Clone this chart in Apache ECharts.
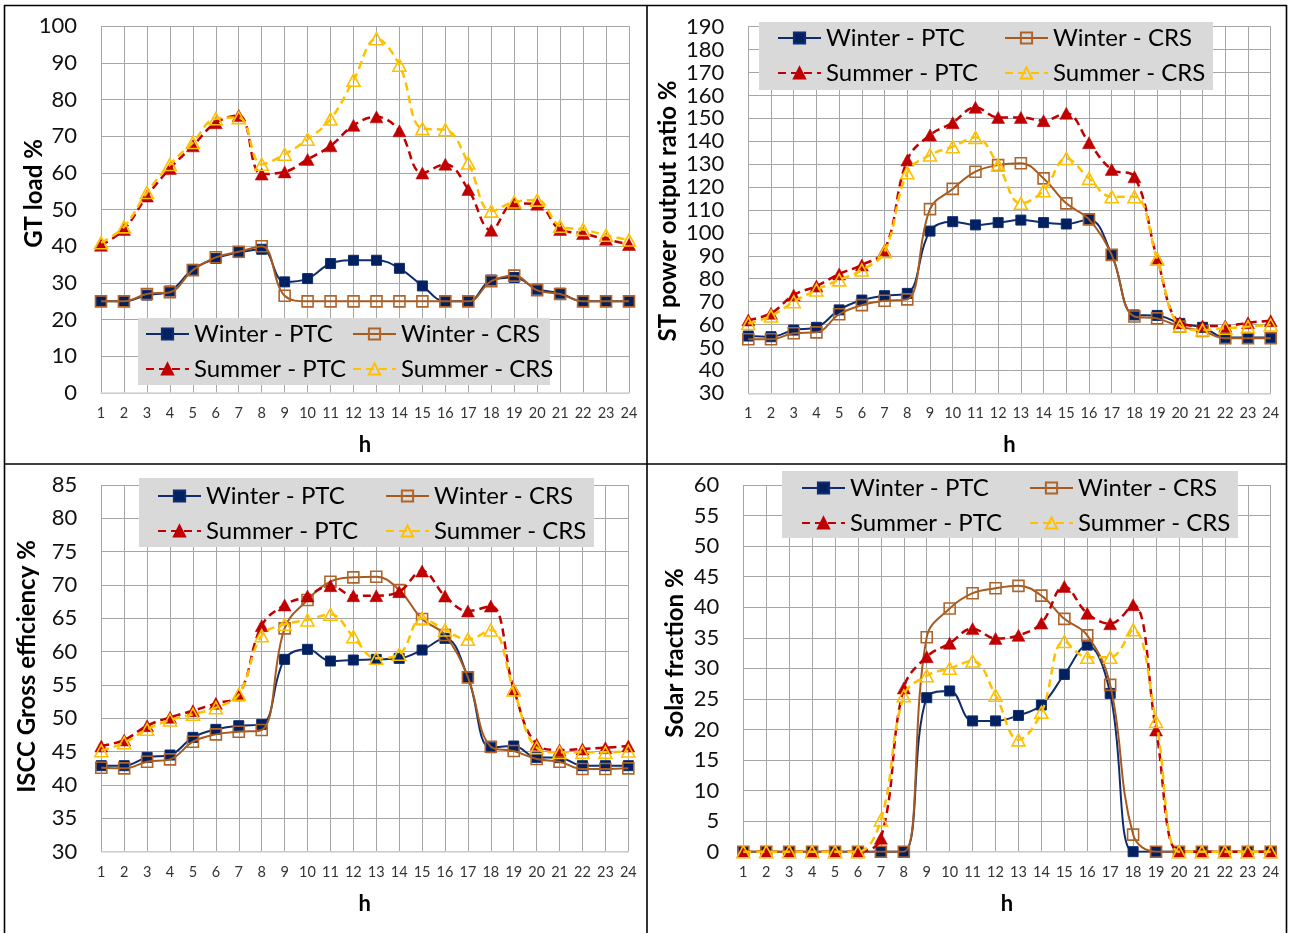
<!DOCTYPE html>
<html>
<head>
<meta charset="utf-8">
<script src="https://cdn.jsdelivr.net/npm/echarts@6/dist/echarts.min.js"></script>
<style>
html,body{margin:0;padding:0;background:#fff;}
#c{width:1290px;height:933px;}
</style>
</head>
<body>
<div id="c"></div>
<script>
// ---- data ----
const hours = ['1','2','3','4','5','6','7','8','9','10','11','12','13','14','15','16','17','18','19','20','21','22','23','24'];
const seriesNames = ['Winter - PTC','Winter - CRS','Summer - PTC','Summer - CRS'];

// GT load %
const gtWinterPTC = [25,25,26.7,27.8,33.7,36.7,38.3,39.2,30.3,31.2,35.3,36.2,36.2,34,29.2,25,25,30.8,31.5,28.3,27.2,25,25,25];
const gtWinterCRS = [25,25,27,27.5,33.5,37,38.5,40,26.5,25,25,25,25,25,25,25,25,30.5,32,28,27,25,25,25];
const gtSummerPTC = [40.3,44.6,53.7,61.2,67.4,73.7,75.7,59.7,60.3,63.7,67.4,73,75.3,71.5,60,62.4,55.5,44.4,51.7,51.5,44.6,43.5,41.9,40.5];
const gtSummerCRS = [41,45.3,54.7,62.3,68.3,74.8,75.1,62.4,65.1,69.2,74.7,85.3,96.6,89.4,72.1,71.8,62.7,49.6,52.1,52.6,45.5,44.6,43,41.7];

// ST power output ratio %
const stWinterPTC = [55,54.7,57.6,58.8,66.4,70.7,72.6,73.6,100.8,104.9,103.5,104.5,105.6,104.5,103.9,105.9,90.4,64.2,64,60.5,58.8,54.4,54.4,54.4];
const stWinterCRS = [53.6,53.6,56.2,56.6,64.5,68.5,70.4,71,110.4,119.2,126.7,129.6,130.4,123.8,112.9,105.9,90.4,63.5,62.7,59.1,57.2,54,54,54];
const stSummerPTC = [62,64.9,72.9,76.8,82.1,86,92.5,131.8,142.7,148.1,154.8,150.4,150.4,149,152.2,139.4,127.7,124.5,88.9,60.8,59.4,59.4,60.8,61.7];
const stSummerCRS = [60.5,63.7,70,75.1,79.5,83.8,91.8,126.3,134,137.6,141.7,129.6,112.9,118.4,132.5,123.8,115.8,115.8,88.5,59.4,57.6,58.4,59.1,59.8];

// ISCC Gross efficiency %
const isWinterPTC = [42.9,42.9,44.15,44.5,47.15,48.35,48.9,49.1,58.85,60.35,58.6,58.75,58.85,59,60.25,62,56.15,45.6,45.85,44.15,44.1,42.9,42.9,42.9];
const isWinterCRS = [42.6,42.5,43.5,43.85,46.5,47.6,48,48.25,63.5,67.75,70.5,71.15,71.25,69.25,64.9,62.5,56.15,45.75,45.1,43.9,43.5,42.4,42.4,42.5];
const isSummerPTC = [45.85,46.75,48.9,50.15,51.15,52.25,53.5,63.9,67,68.35,69.9,68.4,68.4,69,72.1,68.35,66.1,66.85,54.4,46.1,45.25,45.4,45.6,45.85];
const isSummerCRS = [45.15,46.35,48.35,49.75,50.6,51.6,53.6,62.4,64.1,64.75,65.6,62.25,59,59.6,65,63.25,61.85,63.25,54.25,45.6,44.9,44.9,44.9,45.1];

// Solar fraction %
const sfWinterPTC = [0,0,0,0,0,0,0,0,25.2,26.3,21.4,21.4,22.3,24,29,33.8,25.9,0,0,0,0,0,0,0];
const sfWinterCRS = [0,0,0,0,0,0,0,0,35.1,39.8,42.3,43.1,43.5,41.9,38.1,35.4,27.3,2.8,0,0,0,0,0,0];
const sfSummerPTC = [0,0,0,0,0,0,2.2,26.8,31.9,34.1,36.5,34.9,35.4,37.4,43.4,39,37.3,40.4,19.9,0,0,0,0,0];
const sfSummerCRS = [0,0,0,0,0,0,5.2,25.5,28.8,30,31.2,25.6,18.3,22.8,34.4,31.8,31.8,36.3,21.3,0,0,0,0,0];

const yTitles = ['GT load %','ST power output ratio %','ISCC Gross efficiency %','Solar fraction %'];
const yMin = [0,30,30,0];
const yMax = [100,190,85,60];
const yStep = [10,10,5,5];
const xTitle = 'h';

// ---- layout / style ----
const FONT = 'Lato';
const panels = [
  {grid:{left:101,top:26.3,width:528,height:366.7}, data:[gtWinterPTC,gtWinterCRS,gtSummerPTC,gtSummerCRS],
   title:{x:34.5,y:193.5}, box:[138,318,412,67], leg:[145,352,322]},
  {grid:{left:748.3,top:26.7,width:522.4,height:366.6}, data:[stWinterPTC,stWinterCRS,stSummerPTC,stSummerCRS],
   title:{x:668.5,y:211}, box:[759,22,454,68], leg:[777,1004,26]},
  {grid:{left:101.3,top:485,width:527,height:366.7}, data:[isWinterPTC,isWinterCRS,isSummerPTC,isSummerCRS],
   title:{x:27,y:666.5}, box:[139,478,455,69], leg:[157,385,484]},
  {grid:{left:743.3,top:485,width:527.4,height:366.7}, data:[sfWinterPTC,sfWinterCRS,sfSummerPTC,sfSummerCRS],
   title:{x:675,y:653}, box:[782,471,456,67], leg:[801,1029,476]}
];

const styles = [
  {symbol:'rect', symbolSize:10, lineStyle:{color:'#0f2d6e', width:2, type:'solid'},
   itemStyle:{color:'#002060', borderColor:'#0f2d6e', borderWidth:1}},
  {symbol:'rect', symbolSize:11, lineStyle:{color:'#a65a1e', width:2, type:'solid'},
   itemStyle:{color:'rgba(255,255,255,0)', borderColor:'#b0642a', borderWidth:1.6}},
  {symbol:'triangle', symbolSize:[13,12], lineStyle:{color:'#c00000', width:2.5, type:[8,5]},
   itemStyle:{color:'#c00000', borderColor:'#c00000', borderWidth:0.5}},
  {symbol:'triangle', symbolSize:[13,12], lineStyle:{color:'#ffc000', width:2.5, type:[8,5]},
   itemStyle:{color:'rgba(255,255,255,0)', borderColor:'#ffc000', borderWidth:1.6}}
];

const grids = [], xAxes = [], yAxes = [], series = [], legends = [], graphics = [];

panels.forEach((p, i) => {
  grids.push(Object.assign({containLabel:false}, p.grid));
  xAxes.push({
    type:'category', gridIndex:i, data:hours, boundaryGap:false,
    name:xTitle, nameLocation:'middle', nameGap:41,
    nameTextStyle:{fontFamily:FONT, fontWeight:'bold', fontSize:22, color:'#000'},
    axisLine:{show:true, lineStyle:{color:'#d9d9d9', width:1.5}},
    axisTick:{show:false},
    axisLabel:{interval:0, fontFamily:FONT, fontSize:14.5, color:'#333', margin:13},
    splitLine:{show:true, lineStyle:{color:'#a6a6a6', width:1}}
  });
  yAxes.push({
    type:'value', gridIndex:i, min:yMin[i], max:yMax[i], interval:yStep[i],
    axisLine:{show:false}, axisTick:{show:false},
    axisLabel:{fontFamily:FONT, fontSize:22, color:'#111', margin:24},
    splitLine:{show:true, lineStyle:{color:'#a6a6a6', width:1}}
  });
  p.data.forEach((arr, k) => {
    series.push(Object.assign({
      type:'line', name:seriesNames[k], xAxisIndex:i, yAxisIndex:i, data:arr,
      smooth:0.4, showAllSymbol:true, animation:false, z:2+k*0.1
    }, JSON.parse(JSON.stringify(styles[k]))));
  });
  // legend background box
  graphics.push({type:'rect', z:1, silent:true,
    shape:{x:p.box[0], y:p.box[1], width:p.box[2], height:p.box[3]},
    style:{fill:'#d9d9d9'}});
  const legBase = {orient:'vertical', top:p.leg[2], itemWidth:43, itemHeight:14, itemGap:11, padding:0,
    textStyle:{fontFamily:FONT, fontSize:24, color:'#000', lineHeight:24}, selectedMode:false, z:5};
  legends.push(Object.assign({}, legBase, {left:p.leg[0], data:[seriesNames[0], seriesNames[2]]}));
  legends.push(Object.assign({}, legBase, {left:p.leg[1], data:[seriesNames[1], seriesNames[3]]}));
  // rotated y-axis title
  graphics.push({type:'text', z:5, x:p.title.x, y:p.title.y, rotation:Math.PI/2,
    style:{text:yTitles[i], font:'bold 24px ' + FONT, fill:'#000', align:'center', verticalAlign:'middle'}});
});

// panel frame lines
const frame = [
  [4,5.5,1286.5,5.5],[4.5,5,4.5,933],[1286.5,5,1286.5,933],[4,464,1286.5,464],[647,5,647,933]
];
frame.forEach(l => graphics.push({type:'line', z:6, silent:true,
  shape:{x1:l[0], y1:l[1], x2:l[2], y2:l[3]}, style:{stroke:'#000', lineWidth:1.6}}));

const chart = echarts.init(document.getElementById('c'), null, {renderer:'canvas'});
chart.setOption({
  animation:false,
  backgroundColor:'#fff',
  grid:grids, xAxis:xAxes, yAxis:yAxes, series:series, legend:legends, graphic:graphics
});
</script>
</body>
</html>
